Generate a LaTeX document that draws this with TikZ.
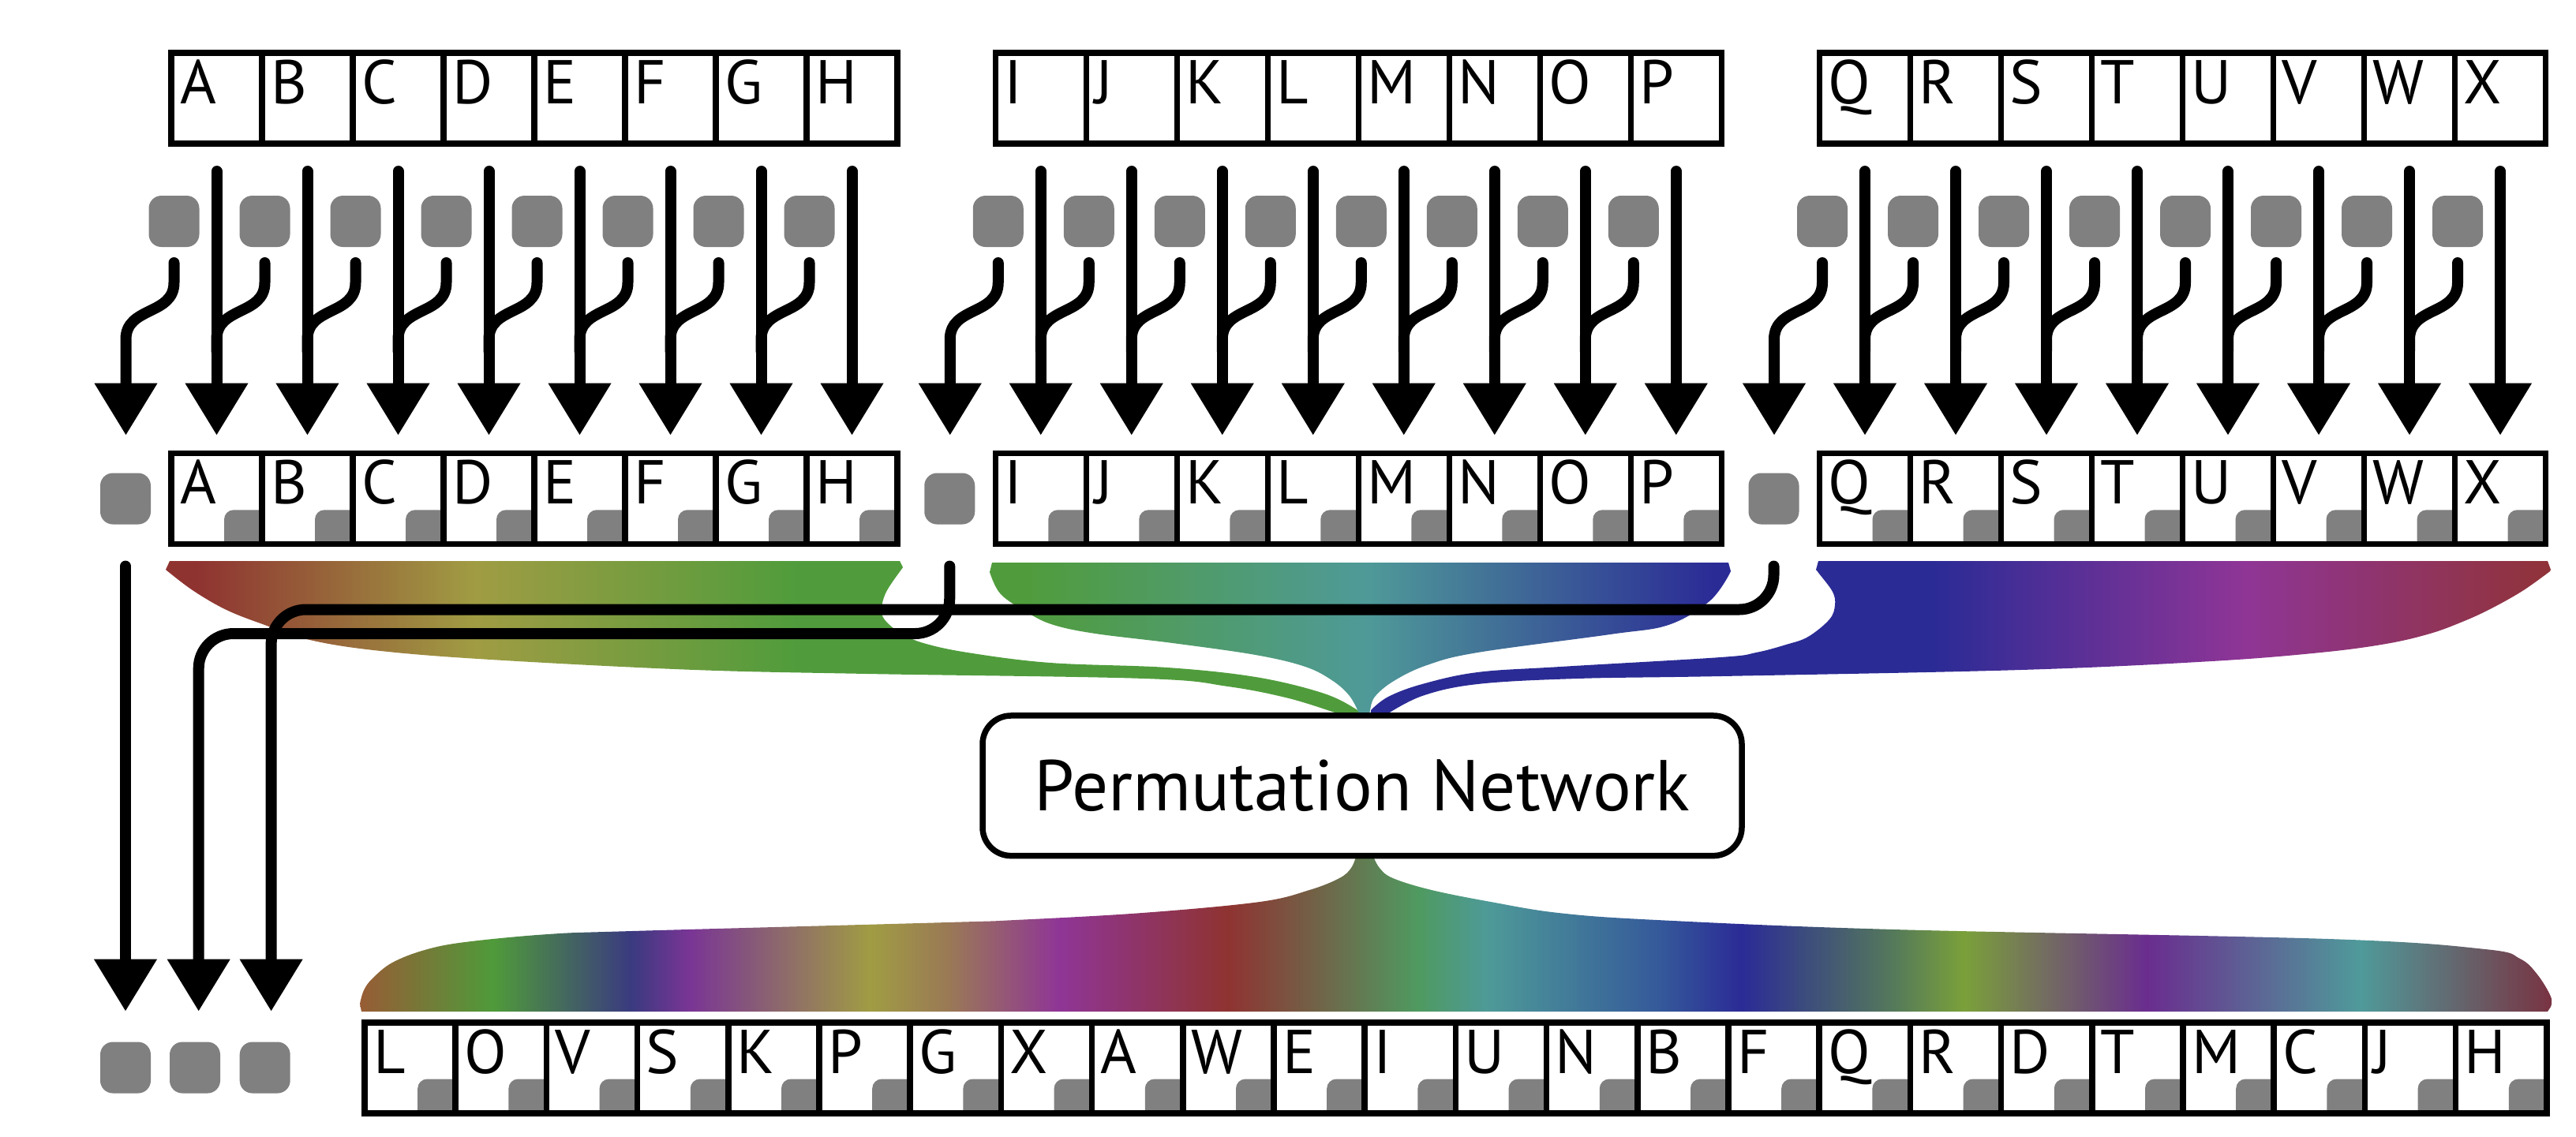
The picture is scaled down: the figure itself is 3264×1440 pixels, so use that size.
\documentclass[tikz,border=0pt]{standalone}
\usepackage{fontspec}
\setmainfont{PT Sans}
\usetikzlibrary{arrows.meta}
\definecolor{gsq}{HTML}{808080}
\definecolor{cR}{HTML}{8F3331}
\definecolor{cO}{HTML}{A09C43}
\definecolor{cG}{HTML}{509C3C}
\definecolor{cT}{HTML}{4F9A98}
\definecolor{cB}{HTML}{2B2B96}
\definecolor{cM}{HTML}{8F3596}
\definecolor{cX}{HTML}{903338}
\definecolor{k01}{HTML}{9A5A35}
\definecolor{k02}{HTML}{4F9A3A}
\definecolor{k03}{HTML}{3A3A80}
\definecolor{k04}{HTML}{7A3595}
\definecolor{k05}{HTML}{A09C43}
\definecolor{k06}{HTML}{9A7A55}
\definecolor{k07}{HTML}{8F3596}
\definecolor{k08}{HTML}{8F3331}
\definecolor{k09}{HTML}{4F9A60}
\definecolor{k10}{HTML}{4E9A98}
\definecolor{k11}{HTML}{355A9A}
\definecolor{k12}{HTML}{2B2B96}
\definecolor{k13}{HTML}{557A5A}
\definecolor{k14}{HTML}{7AA03A}
\definecolor{k15}{HTML}{6A2D8F}
\definecolor{k16}{HTML}{4F9A9A}
\definecolor{k17}{HTML}{7A3040}
\pgfdeclarehorizontalshading{gradA}{100bp}{color(0bp)=(cR); color(26.48bp)=(cR); color(38.03bp)=(cO); color(51.45bp)=(cG); color(100bp)=(cG)}
\pgfdeclarehorizontalshading{gradB}{100bp}{color(0bp)=(cG); color(27.63bp)=(cG); color(50.32bp)=(cT); color(73.42bp)=(cB); color(100bp)=(cB)}
\pgfdeclarehorizontalshading{gradC}{100bp}{color(0bp)=(cB); color(48.84bp)=(cB); color(61.89bp)=(cM); color(74.7bp)=(cX); color(100bp)=(cX)}
\pgfdeclarehorizontalshading{gradD}{100bp}{color(0bp)=(k01); color(25bp)=(k01); color(28.14bp)=(k02); color(31.27bp)=(k03); color(32.6bp)=(k04); color(36.7bp)=(k05); color(38.44bp)=(k06); color(41bp)=(k07); color(44.82bp)=(k08); color(49.14bp)=(k09); color(50.7bp)=(k10); color(54.57bp)=(k11); color(56.49bp)=(k12); color(59.95bp)=(k13); color(61.52bp)=(k14); color(65.68bp)=(k15); color(70.52bp)=(k16); color(75bp)=(k17); color(100bp)=(k17)}
\newcommand\cellnotch[2]{\fill[gsq] (#1-48,#2) -- (#1-48,#2-31) arc[start angle=180,end angle=270,radius=12] -- (#1,#2-43) -- (#1,#2) -- cycle;}
\begin{document}
\begin{tikzpicture}[x=0.25pt,y=-0.25pt,
  cell/.style={draw,line width=1.875pt,minimum width=28.75pt,minimum height=28.75pt,inner sep=0pt,outer sep=0pt},
  bcell/.style={cell,minimum width=28.8pt},
  letter/.style={inner sep=0pt,outer sep=0pt,anchor=base west,font=\fontsize{19.6pt}{20pt}\selectfont},
  gbox/.style={fill=gsq,rounded corners=4pt,minimum width=16pt,minimum height=16.25pt,inner sep=0pt,outer sep=0pt},
  wire/.style={line width=3.5pt,line cap=round},
  arrw/.style={wire,-{Triangle[width=19pt,length=16.5pt]}},
  pnet/.style={draw,line width=1.875pt,rounded corners=9pt,fill=white,minimum width=240.5pt,minimum height=44.4pt,inner sep=0pt,font=\fontsize{22.8pt}{24pt}\selectfont}
]
\useasboundingbox (0,0) rectangle (3264,1440);
% ---------- coloured bands ----------
\begin{scope}
\clip (210,722) -- (215,711) -- (1140,711) -- (1144,719) -- plot[smooth,tension=0.6] coordinates {(1139,726) (1122,752) (1117,776) (1126,791) (1145,804) (1170,815) (1226,827) (1331,840) (1479,846) (1591,858) (1675,878) (1717,898) (1722,906)} -- (1696,906) -- plot[smooth,tension=0.6] coordinates {(1694,904) (1633,885) (1556,870) (1451,860) (1100,854) (881,849) (639,837) (492,826) (397,812) (330,790) (285,772) (244,748) (210,722)} -- cycle;
\shade[shading=gradA] (205,700) rectangle (1725,915);
\end{scope}
\begin{scope}
\clip (1254,725) -- (1257,713) -- (2190,713) -- (2193,724) -- plot[smooth,tension=0.6] coordinates {(2191,728) (2166,762) (2114,792) (2040,804) (1872,827) (1808,843) (1766,863) (1742,883) (1736,900) (1736,906)} -- (1721,906) -- plot[smooth,tension=0.6] coordinates {(1721,902) (1710,882) (1689,863) (1654,845) (1591,830) (1486,815) (1388,803) (1335,792) (1303,777) (1268,753) (1254,725)} -- cycle;
\shade[shading=gradB] (1250,700) rectangle (2200,915);
\end{scope}
\begin{scope}
\clip (2301,722) -- (2304,711) -- (3228,711) -- (3232,722) -- plot[smooth,tension=0.6] coordinates {(3231,724) (3196,749) (3155,772) (3120,788) (3079,803) (3023,816) (2940,827) (2802,838) (2560,849) (2180,857) (1998,860) (1872,867) (1802,882) (1756,906)} -- (1737,906) -- plot[smooth,tension=0.6] coordinates {(1737,900) (1759,883) (1802,867) (1872,852) (1977,845) (2180,833) (2225,827) (2263,817) (2291,807) (2318,785) (2325,767) (2322,750) (2305,727) (2301,722)} -- cycle;
\shade[shading=gradC] (1730,700) rectangle (3240,915);
\end{scope}
\begin{scope}
\clip (458,1282) -- plot[smooth,tension=0.6] coordinates {(456,1272) (461,1255) (472,1240) (497,1220) (538,1204) (589,1194) (694,1184) (800,1180) (1200,1169) (1286,1166) (1447,1157) (1596,1143) (1659,1128) (1697,1113) (1712,1100) (1719,1083)} -- (1740,1083) -- plot[smooth,tension=0.6] coordinates {(1740,1085) (1748,1100) (1765,1113) (1814,1128) (1889,1143) (1975,1157) (2100,1166) (2400,1178) (2951,1190) (3149,1203) (3193,1215) (3215,1235) (3232,1263) (3232,1276)} -- (3228,1282) -- cycle;
\shade[shading=gradD] (450,1075) rectangle (3240,1290);
\end{scope}
% ---------- permutation network ----------
\node[pnet] (pn) at (1726,995.75) {Permutation Network};
% ---------- three input groups ----------
\foreach \g/\lst in {0/{A,B,C,D,E,F,G,H},1/{I,J,K,L,M,N,O,P},2/{Q,R,S,T,U,V,W,X}}{
  \pgfmathsetmacro\L{217+1044.25*\g}
  \foreach \j in {0,...,8}{
    \coordinate (a\g-\j) at (\L-57.5+115*\j,551.7);
  }
  \node[gbox] (r\g) at (\L-58,632) {};
  \foreach \ch [count=\k from 0] in \lst {
    \pgfmathsetmacro\cx{\L+57.5+115*\k}
    \pgfmathsetmacro\R{\L+115*(\k+1)}
    \pgfmathtruncatemacro\jj{\k+1}
    % top row
    \node[cell] (t\g-\k) at (\cx,124.5) {};
    \node[letter] (tl\g-\k) at ([xshift=2.75pt,yshift=-16.125pt]t\g-\k.north west) {\ch};
    % second row
    \cellnotch{\R}{689.25}
    \node[cell] (s\g-\k) at (\cx,631.75) {};
    \node[letter] (sl\g-\k) at ([xshift=2.75pt,yshift=-16.125pt]s\g-\k.north west) {\ch};
    % grey squares and wires
    \node[gbox] (q\g-\k) at (\L+3.5+115*\k,280.5) {};
    \coordinate (j\g-\k) at (\L-57.5+115*\k,430);
    \draw[arrw] ([yshift=-8.75pt]t\g-\k.south) -- (a\g-\jj);
    \ifnum\k=0
      \draw[arrw] ([yshift=-5pt]q\g-\k.south) -- ++(0,25) .. controls +(0,42) and +(0,-42) .. (j\g-\k) -- (a\g-\k);
    \else
      \draw[wire] ([yshift=-5pt]q\g-\k.south) -- ++(0,25) .. controls +(0,42) and +(0,-42) .. (j\g-\k) -- ++(0,15);
    \fi
  }
}
% ---------- wires of the left-over squares ----------
\coordinate (h1) at (251.7,803);
\coordinate (h2) at (343.6,772.5);
\coordinate (bt0) at (159,1281.7);
\coordinate (bt1) at (251.7,1281.7);
\coordinate (bt2) at (343.6,1281.7);
\draw[arrw] ([yshift=-13.25pt]r0.south) -- (bt0);
\draw[arrw,rounded corners=11pt] ([yshift=-13.25pt]r1.south) |- (h1) -- (bt1);
\draw[arrw,rounded corners=11pt] ([yshift=-13.25pt]r2.south) |- (h2) -- (bt2);
\node[gbox] (b0) at (159,1353) {};
\node[gbox] (b1) at (247,1353) {};
\node[gbox] (b2) at (335.7,1353) {};
% ---------- output row ----------
\foreach \ch [count=\k from 0] in {L,O,V,S,K,P,G,X,A,W,E,I,U,N,B,F,Q,R,D,T,M,C,J,H}{
  \pgfmathsetmacro\cx{462+57.6+115.2*\k}
  \pgfmathsetmacro\R{462+115.2*(\k+1)}
  \cellnotch{\R}{1410.5}
  \node[bcell] (o\k) at (\cx,1353.25) {};
  \node[letter] (ol\k) at ([xshift=2.75pt,yshift=-16.125pt]o\k.north west) {\ch};
}
\end{tikzpicture}
\end{document}
